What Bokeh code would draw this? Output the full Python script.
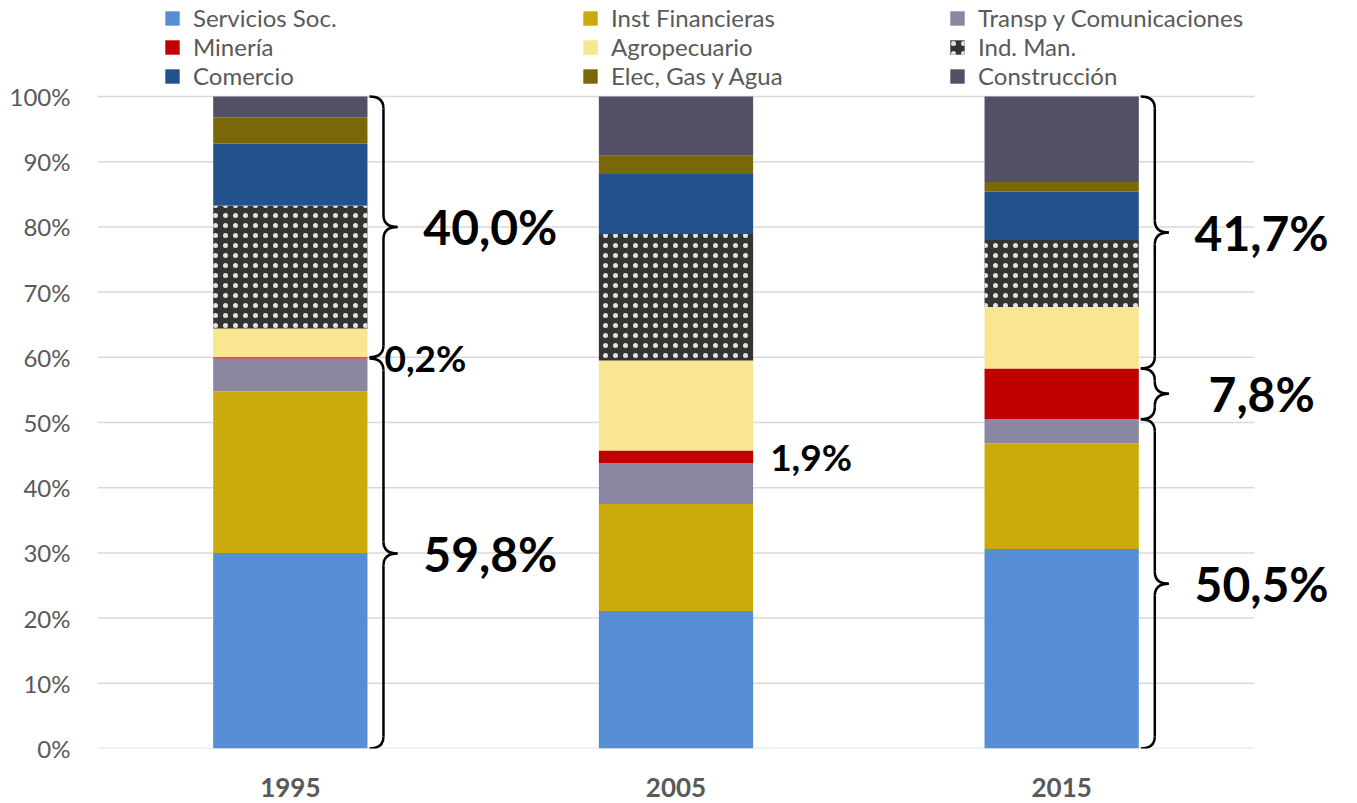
from bokeh.plotting import figure
from bokeh.models import (ColumnDataSource, FixedTicker, PrintfTickFormatter, Legend,
                          LegendItem, Range1d)
from bokeh.core.properties import value
from bokeh.embed import file_html
from bokeh.resources import INLINE

# ---------------- data ----------------
years = ["1995", "2005", "2015"]
sectors = ["Servicios Soc.", "Inst Financieras", "Transp y Comunicaciones", "Minería",
           "Agropecuario", "Ind. Man.", "Comercio", "Elec, Gas y Agua", "Construcción"]
servicios = [30.0, 21.1, 30.6]
inst_fin = [24.8, 16.4, 16.2]
transp = [5.0, 6.3, 3.7]
mineria = [0.2, 1.9, 7.8]
agro = [4.4, 13.8, 9.4]
ind_man = [18.9, 19.4, 10.3]
comercio = [9.5, 9.2, 7.4]
elec = [4.0, 2.8, 1.5]
construccion = [3.2, 9.1, 13.1]
y_ticks = list(range(0, 101, 10))

series = [servicios, inst_fin, transp, mineria, agro, ind_man, comercio, elec, construccion]
colors = ["#558ED5", "#CAAB0B", "#8B87A3", "#C00000", "#F8E790", "#353430",
          "#22528B", "#7A6707", "#535066"]
hatches = [" ", " ", " ", " ", " ", ".", " ", " ", " "]

keys = ["s%d" % i for i in range(len(series))]
x = list(range(len(years)))
data = {"x": x}
for k, s in zip(keys, series):
    data[k] = s
source = ColumnDataSource(data)

# ---------------- geometry ----------------
W, H = 1357, 803
ML, MB = 97, 55            # left / bottom borders (axes)
PLOT_TOP_PX = 96           # pixel row of the 100% line
PLOT_RIGHT_PX = 1254       # right end of the gridlines
PX_X = (PLOT_RIGHT_PX - ML) / 3.0
PX_Y = (H - MB - PLOT_TOP_PX) / 100.0
x_end = -0.5 + (W - ML) / PX_X
y_end = 100 + PLOT_TOP_PX / PX_Y

p = figure(width=W, height=H, output_backend="svg", toolbar_location=None,
           x_range=Range1d(-0.5, x_end), y_range=Range1d(0, y_end),
           min_border_left=ML, min_border_right=0, min_border_top=0, min_border_bottom=MB)
p.outline_line_color = None
p.background_fill_color = "white"
p.xgrid.grid_line_color = None
p.ygrid.grid_line_color = None

# gridlines (only across the category area)
p.segment(x0=[-0.5] * len(y_ticks), x1=[2.5] * len(y_ticks), y0=y_ticks, y1=y_ticks,
          line_color="#D9D9D9", line_width=1.5)

renderers = p.vbar_stack(keys, x="x", width=0.4, source=source,
                         fill_color=colors, line_color=None,
                         hatch_pattern=hatches, hatch_color="white",
                         hatch_scale=10, hatch_weight=0.1, hatch_alpha=0.85)

# axes
p.xaxis.ticker = FixedTicker(ticks=x)
p.xaxis.major_label_overrides = {i: y for i, y in enumerate(years)}
p.xaxis.major_tick_line_color = None
p.xaxis.minor_tick_line_color = None
p.xaxis.axis_line_color = None
p.xaxis.major_label_text_font = "Lato"
p.xaxis.major_label_text_font_style = "bold"
p.xaxis.major_label_text_font_size = "26px"
p.xaxis.major_label_text_color = "#595959"
p.xaxis.major_label_standoff = 23

p.yaxis.ticker = FixedTicker(ticks=y_ticks)
p.yaxis.formatter = PrintfTickFormatter(format="%d%%")
p.yaxis.major_tick_line_color = None
p.yaxis.minor_tick_line_color = None
p.yaxis.axis_line_color = None
p.yaxis.major_label_text_font = "Lato"
p.yaxis.major_label_text_font_size = "24px"
p.yaxis.major_label_text_color = "#595959"
p.yaxis.major_label_standoff = 21

# legends: three columns, inside the (extended) frame
frame_h = H - MB
cols = [[0, 3, 6], [1, 4, 7], [2, 5, 8]]
col_x = [163 - ML, 581 - ML, 948 - ML]
for cx, idx in zip(col_x, cols):
    items = [LegendItem(label=sectors[i], renderers=[renderers[i]]) for i in idx]
    lg = Legend(items=items, location=(cx, frame_h - 90), orientation="vertical",
                label_text_font="Lato", label_text_font_size="24px",
                label_text_color="#595959", glyph_width=18, glyph_height=18,
                label_height=29, spacing=0, label_standoff=12,
                padding=0, margin=0, border_line_color=None,
                background_fill_alpha=0)
    p.add_layout(lg, "center")

# ---------------- braces & labels ----------------
low = [a + b + c for a, b, c in zip(servicios, inst_fin, transp)]
mid_top = [l + m for l, m in zip(low, mineria)]


def fmt(v):
    return ("%.1f%%" % v).replace(".", ",")


brace_specs = [
    (0, 0.0, low[0]),
    (0, mid_top[0], 100.0),
    (2, 0.0, low[2]),
    (2, low[2], mid_top[2]),
    (2, mid_top[2], 100.0),
]

q = {"x0": [], "y0": [], "x1": [], "y1": [], "cx": [], "cy": []}
sg = {"x0": [], "y0": [], "x1": [], "y1": []}
big = {"x": [], "y": [], "t": []}
for bar, y0, y1 in brace_specs:
    xs = bar + 0.2 + 2.0 / PX_X
    w = 28.0 / PX_X
    xm = xs + w / 2
    tip = xs + w
    ym = (y0 + y1) / 2
    r = min(12.0 / PX_Y, (y1 - y0) / 4)
    for (ax, ay, bx, by, cxx, cyy) in [
        (xs, y1, xm, y1 - r, xm, y1),
        (xm, ym + r, tip, ym, xm, ym),
        (tip, ym, xm, ym - r, xm, ym),
        (xm, y0 + r, xs, y0, xm, y0),
    ]:
        q["x0"].append(ax); q["y0"].append(ay); q["x1"].append(bx); q["y1"].append(by)
        q["cx"].append(cxx); q["cy"].append(cyy)
    for (ax, ay, bx, by) in [(xm, y1 - r, xm, ym + r), (xm, ym - r, xm, y0 + r)]:
        sg["x0"].append(ax); sg["y0"].append(ay); sg["x1"].append(bx); sg["y1"].append(by)
    big["x"].append(bar)
    big["y"].append(ym)
    big["t"].append(fmt(y1 - y0))

p.quadratic(x0="x0", y0="y0", x1="x1", y1="y1", cx="cx", cy="cy",
            source=ColumnDataSource(q), line_color="black", line_width=2.5)
p.segment(x0="x0", y0="y0", x1="x1", y1="y1", source=ColumnDataSource(sg),
          line_color="black", line_width=2.5)
p.text(x="x", y="y", text="t", source=ColumnDataSource(big), x_offset=200,
       text_font=value("Lato"), text_font_style="bold", text_font_size="48px",
       text_align="center", text_baseline="middle", text_color="black")

# small labels for minería (no brace)
small_bars = [0, 1]
small = {"x": [b + 0.2 for b in small_bars],
         "y": [low[b] + mineria[b] / 2 for b in small_bars],
         "t": [fmt(mineria[b]) for b in small_bars]}
p.text(x="x", y="y", text="t", source=ColumnDataSource(small), x_offset=17,
       text_font=value("Lato"), text_font_style="bold", text_font_size="37px",
       text_align="left", text_baseline="middle", text_color="black")

open("out.html", "w").write(file_html(p, INLINE))
